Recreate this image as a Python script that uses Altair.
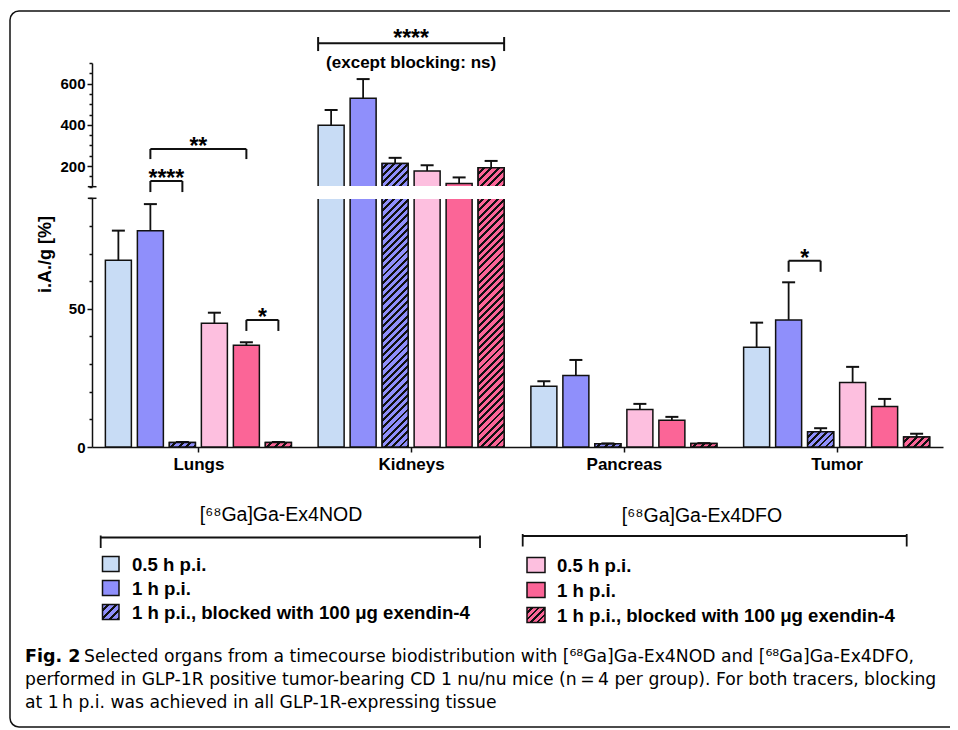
import altair as alt
import pandas as pd

# ---------------- data ----------------
organs = ["Lungs", "Kidneys", "Pancreas", "Tumor"]
series = ["NOD 0.5 h", "NOD 1 h", "NOD 1 h blocked", "DFO 0.5 h", "DFO 1 h", "DFO 1 h blocked"]

nod_05_mean = [67.6, 398, 22.0, 36.1]
nod_05_sd = [10.7, 74, 1.8, 8.9]
nod_1_mean = [78.3, 529, 25.9, 46.0]
nod_1_sd = [9.6, 93, 5.6, 13.6]
nod_blk_mean = [1.6, 213, 1.2, 5.5]
nod_blk_sd = [0.2, 27, 0.1, 1.3]
dfo_05_mean = [44.8, 176, 13.6, 23.3]
dfo_05_sd = [3.8, 28, 2.0, 5.7]
dfo_1_mean = [36.8, 116, 9.7, 14.7]
dfo_1_sd = [1.1, 29, 1.2, 2.7]
dfo_blk_mean = [1.6, 192, 1.3, 3.6]
dfo_blk_sd = [0.2, 33, 0.1, 1.2]

legend_titles = ["[\u2076\u2078Ga]Ga-Ex4NOD", "[\u2076\u2078Ga]Ga-Ex4DFO"]
legend_labels = ["0.5 h p.i.", "1 h p.i.", "1 h p.i., blocked with 100 \u03bcg exendin-4"]

# significance brackets (organ, bar a, bar b, panel, bracket level, leg end, label)
sig_organ = ["Lungs", "Lungs", "Lungs", "Tumor"]
sig_a = [1, 1, 4, 1]
sig_b = [2, 4, 5, 2]
sig_panel = ["upper", "upper", "lower", "lower"]
sig_level = [127.6, 283, 46.0, 67.4]
sig_leg = [74, 234, 42.0, 63.4]
sig_text = ["****", "**", "*", "*"]
kid_level, kid_cap_lo, kid_cap_hi = 795.5, 758, 826
kid_text = "****"
kid_note = "(except blocking: ns)"
kid_note_level = 678

caption_bold = "Fig. 2"
caption_lines = [
    "Selected organs from a timecourse biodistribution with [\u2076\u2078Ga]Ga-Ex4NOD and [\u2076\u2078Ga]Ga-Ex4DFO,",
    "performed in GLP-1R positive tumor-bearing CD 1 nu/nu mice (n\u2009=\u20094 per group). For both tracers, blocking",
    "at 1\u2009h p.i. was achieved in all GLP-1R-expressing tissue",
]

# ---------------- style / layout ----------------
colors = ["#c8dcf5", "#8f8ffb", "#8f8ffb", "#fdbfdf", "#fb6597", "#fb6597"]
hatched = [False, False, True, False, False, True]
FONT = "Liberation Sans, Arial, Helvetica, sans-serif"
CAP_FONT = "DejaVu Sans, sans-serif"
INK = "#111111"

W, H = 942, 722
X0, X1 = 84, 935
UNIT = (X1 - X0) / 4.0
STEP = 32 / UNIT
HALF = 13 / UNIT
CAPH = 6.5 / UNIT
UP_DOM, UP_RANGE = [100, 700], [178.7, 55.0]
LO_DOM, LO_RANGE = [0, 90], [439.0, 190.3]
up_px = (UP_RANGE[0] - UP_RANGE[1]) / (UP_DOM[1] - UP_DOM[0])
lo_px = (LO_RANGE[0] - LO_RANGE[1]) / (LO_DOM[1] - LO_DOM[0])
BAR_W = 26


def hatch_fill(color, w, h, period=7.3, frac=0.6):
    n = max(1, int(round((w + h) / period)))
    k = (w + h) / (w * w + h * h)
    stops = []
    for i in range(n):
        a, b, c = i / n, (i + frac) / n, (i + 1) / n
        stops += [
            {"offset": a, "color": color},
            {"offset": b, "color": color},
            {"offset": b, "color": INK},
            {"offset": c, "color": INK},
        ]
    return {"gradient": "linear", "x1": 0, "y1": 0, "x2": k * w, "y2": k * h, "stops": stops}


means = [nod_05_mean, nod_1_mean, nod_blk_mean, dfo_05_mean, dfo_1_mean, dfo_blk_mean]
sds = [nod_05_sd, nod_1_sd, nod_blk_sd, dfo_05_sd, dfo_1_sd, dfo_blk_sd]
rows = []
for i, organ in enumerate(organs):
    for j, s in enumerate(series):
        xc = i + (j - 2.5) * STEP
        m, sd = means[j][i], sds[j][i]
        rows.append({"organ": organ, "series": s, "j": j, "xc": xc, "x0": xc - HALF, "x1": xc + HALF,
                     "c0": xc - CAPH, "c1": xc + CAPH, "mean": m, "top": m + sd,
                     "low": min(m, LO_DOM[1])})
df = pd.DataFrame(rows)

sig_rows = []
for o, a, b, p, lv, lg, t in zip(sig_organ, sig_a, sig_b, sig_panel, sig_level, sig_leg, sig_text):
    i = organs.index(o)
    xa, xb = i + (a - 2.5) * STEP, i + (b - 2.5) * STEP
    sig_rows.append({"panel": p, "xa": xa, "xb": xb, "xm": (xa + xb) / 2, "level": lv, "leg": lg, "label": t})
sig = pd.DataFrame(sig_rows)
ki = organs.index("Kidneys")
kid = pd.DataFrame([{"xa": ki - 2.5 * STEP - HALF, "xb": ki + 2.5 * STEP + HALF, "xm": ki,
                     "level": kid_level, "lo": kid_cap_lo, "hi": kid_cap_hi, "label": kid_text,
                     "note": kid_note, "nl": kid_note_level}])
one = pd.DataFrame({"k": [0]})

# ---------------- scales / axes ----------------
xscale = alt.Scale(domain=[-0.5, 3.5], range=[X0, X1], nice=False, zero=False)
label_expr = "[" + ",".join("'%s'" % o for o in organs) + "][datum.value]"
xaxis = alt.Axis(orient="bottom", offset=LO_RANGE[0] - H, values=[0, 1, 2, 3], labelExpr=label_expr,
                 title=None, grid=False, domainColor=INK, domainWidth=1.5, tickColor=INK, tickWidth=1.5,
                 tickSize=5, labelFont=FONT, labelFontSize=17, labelFontWeight="bold", labelColor="black",
                 labelPadding=4)


def X(field):
    return alt.X(field, type="quantitative", scale=xscale, axis=xaxis)


def yaxis(values, major, **kw):
    return alt.Axis(orient="left", offset=-X0, values=values,
                    labelExpr="datum.value %% %d == 0 ? datum.label : ''" % major,
                    tickSize={"condition": {"test": "datum.value %% %d == 0" % major, "value": 5}, "value": 3},
                    grid=False, domainColor=INK, domainWidth=1.5, tickColor=INK, tickWidth=1.5,
                    labelFont=FONT, labelFontSize=15, labelFontWeight="bold", labelColor="black",
                    labelPadding=2, **kw)


up_scale = alt.Scale(domain=UP_DOM, range=UP_RANGE, nice=False, zero=False)
lo_scale = alt.Scale(domain=LO_DOM, range=LO_RANGE, nice=False, zero=False)
up_axis = yaxis(list(range(100, 701, 50)), 200, title=None)
lo_axis = yaxis(list(range(0, 91, 10)), 50, title="i.A./g [%]", titleX=-47, titleY=246, titleAngle=270,
                titleAlign="center", titleBaseline="middle", titleFont=FONT, titleFontSize=18,
                titleFontWeight="bold", titleColor="black")


def YU(field, axis=True):
    return alt.Y(field, type="quantitative", scale=up_scale, axis=up_axis if axis else None)


def YL(field, axis=True):
    return alt.Y(field, type="quantitative", scale=lo_scale, axis=lo_axis if axis else None)


fill_enc = alt.Fill("series:N", scale=alt.Scale(domain=series, range=colors), legend=None)
base = alt.Chart(df)

# ---------------- panels (broken axis: 0-90 and 100-700) ----------------
up_layers = [
    base.transform_filter("datum.mean > 100").mark_bar(stroke=INK, strokeWidth=1.5).encode(
        x=X("x0"), x2="x1", y=YU("mean"), y2=alt.datum(UP_DOM[0]), fill=fill_enc),
]
lo_layers = [
    base.mark_bar(stroke=INK, strokeWidth=1.5).encode(
        x=X("x0"), x2="x1", y=YL("low"), y2=alt.datum(0), fill=fill_enc),
]
for r in rows:
    if not hatched[r["j"]]:
        continue
    flt = "datum.organ == '%s' && datum.j == %d" % (r["organ"], r["j"])
    col = colors[r["j"]]
    lo_h = r["low"] * lo_px
    lo_layers.append(base.transform_filter(flt).mark_bar(
        stroke=INK, strokeWidth=1.5, fill=hatch_fill(col, BAR_W, lo_h)).encode(
        x=X("x0"), x2="x1", y=YL("low"), y2=alt.datum(0)))
    if r["mean"] > UP_DOM[0]:
        up_h = (r["mean"] - UP_DOM[0]) * up_px
        up_layers.append(base.transform_filter(flt).mark_bar(
            stroke=INK, strokeWidth=1.5, fill=hatch_fill(col, BAR_W, up_h)).encode(
            x=X("x0"), x2="x1", y=YU("mean"), y2=alt.datum(UP_DOM[0])))

up_layers += [
    base.transform_filter("datum.mean > 100").mark_rule(color=INK, strokeWidth=1.8).encode(
        x=X("xc"), y=YU("mean"), y2="top"),
    base.transform_filter("datum.mean > 100").mark_rule(color=INK, strokeWidth=2).encode(
        x=X("c0"), x2="c1", y=YU("top")),
    alt.Chart(one).mark_rule(color=INK, strokeWidth=1.5).encode(
        x=alt.value(X0 - 4.2), x2=alt.value(X0 + 4.5),
        y=alt.YDatum(UP_DOM[0], type="quantitative", scale=up_scale, axis=up_axis)),
]
lo_layers += [
    base.transform_filter("datum.top <= 90").mark_rule(color=INK, strokeWidth=1.8).encode(
        x=X("xc"), y=YL("mean"), y2="top"),
    base.transform_filter("datum.top <= 90").mark_rule(color=INK, strokeWidth=2).encode(
        x=X("c0"), x2="c1", y=YL("top")),
    alt.Chart(one).mark_rule(color=INK, strokeWidth=1.5).encode(
        x=alt.value(X0 - 4.2), x2=alt.value(X0 + 4.5),
        y=alt.YDatum(LO_DOM[1], type="quantitative", scale=lo_scale, axis=lo_axis)),
]


# ---------------- annotations ----------------
def bracket_layers(data, Y):
    d = alt.Chart(data)
    return [
        d.mark_rule(color=INK, strokeWidth=2).encode(x=X("xa"), x2="xb", y=Y("level", False)),
        d.transform_fold(["xa", "xb"], as_=["side", "xp"]).mark_rule(color=INK, strokeWidth=2).encode(
            x=X("xp"), y=Y("level", False), y2="leg"),
        d.mark_text(font=FONT, fontSize=23, fontWeight="bold", color="black", baseline="alphabetic",
                    dy=5).encode(x=X("xm"), y=Y("level", False), text="label"),
    ]


up_annot = bracket_layers(sig[sig.panel == "upper"], YU)
lo_annot = bracket_layers(sig[sig.panel == "lower"], YL)
kd = alt.Chart(kid)
up_annot += [
    kd.mark_rule(color=INK, strokeWidth=2).encode(x=X("xa"), x2="xb", y=YU("level", False)),
    kd.transform_fold(["xa", "xb"], as_=["side", "xp"]).mark_rule(color=INK, strokeWidth=2).encode(
        x=X("xp"), y=YU("lo", False), y2="hi"),
    kd.mark_text(font=FONT, fontSize=23, fontWeight="bold", color="black", baseline="alphabetic",
                 dy=3).encode(x=X("xm"), y=YU("level", False), text="label"),
    kd.mark_text(font=FONT, fontSize=17, fontWeight="bold", color="black", baseline="alphabetic").encode(
        x=X("xm"), y=YU("nl", False), text="note"),
]


# ---------------- decoration: frame, break mask, legend, caption ----------------
def rect(x0, x1, y0, y1, **kw):
    return alt.Chart(one).mark_rect(**kw).encode(
        x=alt.value(x0), x2=alt.value(x1), y=alt.value(y0), y2=alt.value(y1))


def rule(x0, x1, y0, y1, w=1.8):
    return alt.Chart(one).mark_rule(color=INK, strokeWidth=w).encode(
        x=alt.value(x0), x2=alt.value(x1), y=alt.value(y0), y2=alt.value(y1))


def text(s, x, y, size, weight="normal", align="left", font=FONT, baseline="alphabetic"):
    return alt.Chart(one).mark_text(text=s, font=font, fontSize=size, fontWeight=weight, align=align,
                                    baseline=baseline, color="black").encode(x=alt.value(x), y=alt.value(y))


frame = rect(2, 1200, 3, 719, fillOpacity=0, stroke=INK, strokeWidth=1.5, cornerRadius=9)
mask = rect(X0 + 6, X1, 177.9, 191.1, fill="white")

legend = []
leg_specs = [
    (273, 513, 92.7, 472, 529.5, 94.5, 111, [556, 580, 604], 124, [0, 1, 2]),
    (694, 514, 514.7, 898.7, 528, 519, 537, [557, 582, 607], 549, [3, 4, 5]),
]
for (tx, ty, bx0, bx1, by, sx0, sx1, rys, lx, idx), title in zip(leg_specs, legend_titles):
    legend.append(text(title, tx, ty, 19.5, align="center"))
    legend.append(rule(bx0, bx1, by, by))
    legend.append(rule(bx0, bx0, by - 2, by + 10.5))
    legend.append(rule(bx1, bx1, by - 2, by + 10.5))
    for ry, j, lab in zip(rys, idx, legend_labels):
        fill = hatch_fill(colors[j], sx1 - sx0, 15) if hatched[j] else colors[j]
        legend.append(rect(sx0, sx1, ry - 7.5, ry + 7.5, fill=fill, stroke=INK, strokeWidth=1.5))
        legend.append(text(lab, lx, ry + 1, 18.6, weight="bold", baseline="middle"))

caption = [text(caption_bold, 17, 654, 17.5, weight="bold", font=CAP_FONT)]
caption.append(text(caption_lines[0], 76, 654, 17.2, font=CAP_FONT))
caption.append(text(caption_lines[1], 17, 677, 17.2, font=CAP_FONT))
caption.append(text(caption_lines[2], 17, 700, 17.2, font=CAP_FONT))

chart = alt.layer(
    frame,
    alt.layer(*up_layers),
    alt.layer(*lo_layers),
    mask,
    alt.layer(*up_annot),
    alt.layer(*lo_annot),
    *legend,
    *caption,
).resolve_scale(y="independent").properties(
    width=W, height=H, padding=0, autosize=alt.AutoSizeParams(type="none")
).configure_view(strokeWidth=0)

chart.save("out.html", embed_options={"renderer": "svg", "actions": False})
